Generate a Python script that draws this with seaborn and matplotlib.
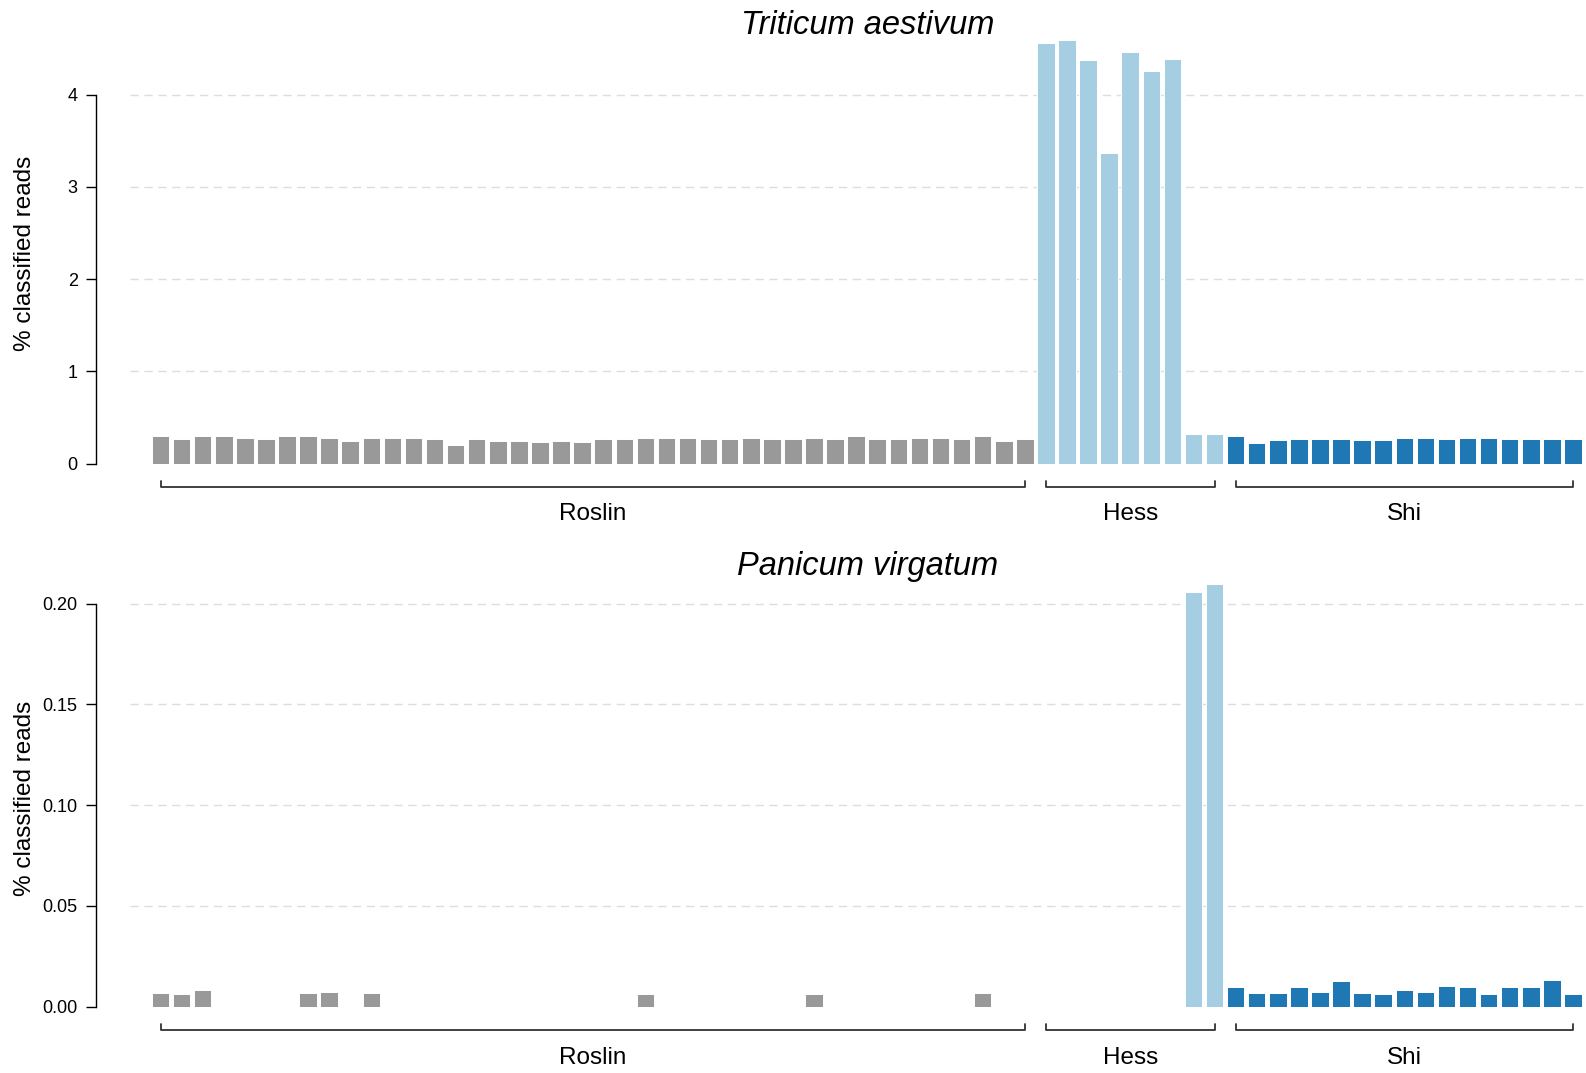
import numpy as np
import pandas as pd
import seaborn as sns
import matplotlib.pyplot as plt

# ── Data ──────────────────────────────────────────────
GROUPS = ["Roslin", "Hess", "Shi"]
COLORS = {"Roslin": "#999999", "Hess": "#A6CEE3", "Shi": "#1F78B4"}

triticum_roslin = [0.293, 0.264, 0.293, 0.293, 0.278, 0.264, 0.293, 0.293, 0.278, 0.249,
                   0.278, 0.278, 0.278, 0.264, 0.202, 0.264, 0.249, 0.249, 0.235, 0.249,
                   0.235, 0.264, 0.264, 0.278, 0.278, 0.278, 0.264, 0.264, 0.278, 0.264,
                   0.264, 0.278, 0.264, 0.293, 0.264, 0.264, 0.278, 0.278, 0.264, 0.293,
                   0.249, 0.264]
triticum_hess = [4.56, 4.59, 4.37, 3.37, 4.46, 4.26, 4.38, 0.32, 0.32]
triticum_shi = [0.295, 0.22, 0.25, 0.265, 0.265, 0.265, 0.25, 0.25, 0.28, 0.28,
                0.265, 0.28, 0.28, 0.265, 0.265, 0.265, 0.265]

panicum_roslin = [0.0066, 0.006, 0.0081, 0, 0, 0, 0, 0.0066, 0.0073, 0,
                  0.0066, 0, 0, 0, 0, 0, 0, 0, 0, 0,
                  0, 0, 0, 0.006, 0, 0, 0, 0, 0, 0,
                  0, 0.006, 0, 0, 0, 0, 0, 0, 0, 0.0066,
                  0, 0]
panicum_hess = [0, 0, 0, 0, 0, 0, 0, 0.206, 0.210]
panicum_shi = [0.0095, 0.0066, 0.0066, 0.0095, 0.0073, 0.0126, 0.0066, 0.006, 0.008, 0.0073,
               0.0101, 0.0095, 0.006, 0.0095, 0.0095, 0.0134, 0.006]

triticum_ticks = [0, 1, 2, 3, 4]
panicum_ticks = [0.00, 0.05, 0.10, 0.15, 0.20]


def make_df(roslin, hess, shi):
    rows = []
    for g, vals in zip(GROUPS, [roslin, hess, shi]):
        for i, v in enumerate(vals):
            rows.append({"sample": f"{g}_{i+1}", "group": g, "value": v})
    return pd.DataFrame(rows)


df_tri = make_df(triticum_roslin, triticum_hess, triticum_shi)
df_pan = make_df(panicum_roslin, panicum_hess, panicum_shi)

# ── Figure ────────────────────────────────────────────
sns.set_theme(style="white")
plt.rcParams["font.family"] = ["Liberation Sans", "DejaVu Sans"]
plt.rcParams["text.color"] = "black"
plt.rcParams["ytick.color"] = "black"
plt.rcParams["ytick.labelcolor"] = "black"

W, H = 1586, 1073
fig = plt.figure(figsize=(W / 100, H / 100), dpi=100)
ax_top = fig.add_axes([130 / W, 1 - 463.5 / H, (W - 130) / W, 428.5 / H])
ax_bot = fig.add_axes([130 / W, 1 - 1006.5 / H, (W - 130) / W, 426.5 / H])


def draw_panel(ax, df, ticks, ymax, fmt, title, title_y, ylabel_y):
    sns.barplot(data=df, x="sample", y="value", hue="group", palette=COLORS,
                order=list(df["sample"]), dodge=False, width=0.833, legend=False,
                saturation=1, edgecolor="white", linewidth=0.7, errorbar=None, ax=ax)
    ax.set_xlim(-1.447, len(df) - 1 + 0.62)
    ax.set_ylim(0, ymax)
    ax.set_xticks([])
    ax.set_xlabel("")
    ax.set_ylabel("")
    ax.set_yticks(ticks)
    ax.set_yticklabels([fmt.format(t) for t in ticks])
    for t in ticks[1:]:
        ax.axhline(t, color="#DDDDDD", linestyle=(0, (6, 4)), linewidth=1, zorder=0)
    sns.despine(ax=ax, bottom=True, offset={"left": 24.7})
    ax.spines["left"].set_bounds(ticks[0], ticks[-1])
    ax.spines["left"].set_color("black")
    ax.spines["left"].set_linewidth(1)
    ax.tick_params(axis="y", left=True, length=7, width=1, color="black",
                   labelsize=13, pad=6)

    # group brackets under the bars
    h = ax.bbox.height
    tr = ax.get_xaxis_transform()
    start = 0
    for g in GROUPS:
        n = (df["group"] == g).sum()
        x0, x1 = start, start + n - 1
        ax.plot([x0, x0, x1, x1], [-17 / h, -23 / h, -23 / h, -17 / h],
                transform=tr, clip_on=False, color="#333333", linewidth=1.3)
        ax.text((x0 + x1) / 2, -51 / h, g, transform=tr, ha="center", va="center",
                fontsize=17.5, color="black")
        start += n

    fig.text(868 / W, 1 - title_y / H, title, ha="center", va="center",
             fontsize=23.5, fontstyle="italic")
    fig.text(25 / W, 1 - ylabel_y / H, "% classified reads", rotation=90,
             ha="center", va="center", fontsize=17.5)


draw_panel(ax_top, df_tri, triticum_ticks, 4.645, "{:d}", "Triticum aestivum", 25, 253)
draw_panel(ax_bot, df_pan, panicum_ticks, 0.2118, "{:.2f}", "Panicum virgatum", 566, 798)

plt.savefig("out.png", dpi=100)
